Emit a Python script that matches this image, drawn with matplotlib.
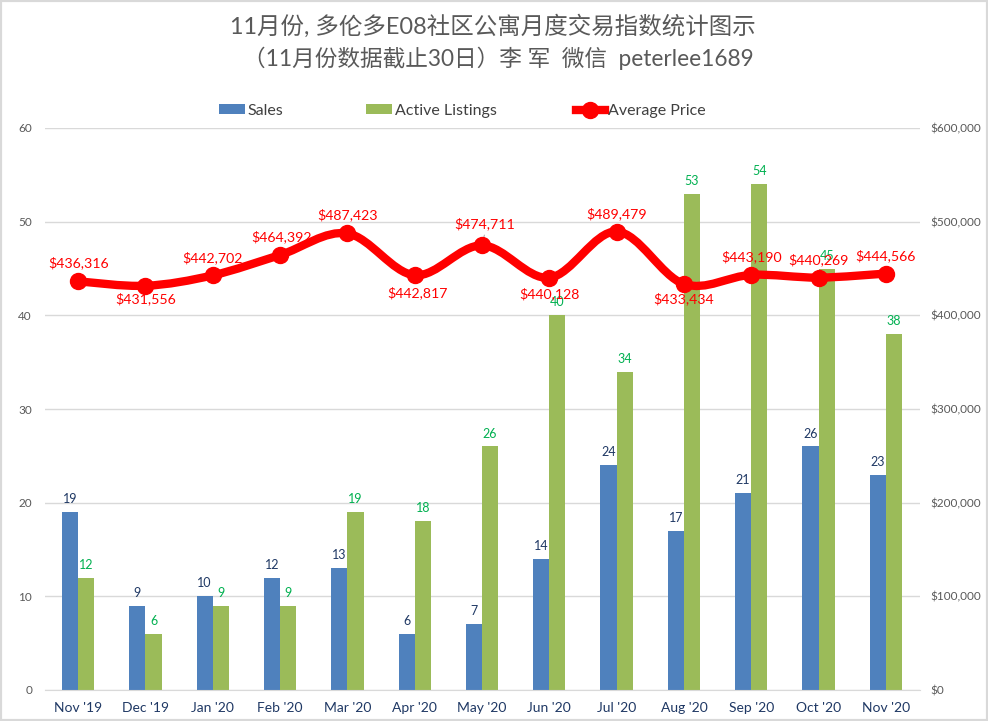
import matplotlib
matplotlib.use('Agg')
import matplotlib.pyplot as plt
import numpy as np
from matplotlib.patches import PathPatch, Rectangle
from matplotlib.path import Path
from matplotlib.lines import Line2D

plt.rcParams['font.family'] = ['Lato', 'Noto Sans CJK SC', 'DejaVu Sans']

months = ["Nov '19", "Dec '19", "Jan '20", "Feb '20", "Mar '20", "Apr '20", "May '20",
          "Jun '20", "Jul '20", "Aug '20", "Sep '20", "Oct '20", "Nov '20"]
sales = [19, 9, 10, 12, 13, 6, 7, 14, 24, 17, 21, 26, 23]
listings = [12, 6, 9, 9, 19, 18, 26, 40, 34, 53, 54, 45, 38]
price = [436316, 431556, 442702, 464392, 487423, 442817, 474711,
         440128, 489479, 433434, 443190, 440269, 444566]

# label offsets from the marker, in pixels
price_offsets = [(0, 19), (0, -13), (0, 18), (1, 18), (0, 19), (3, -18), (3, 22),
                 (0, -16), (0, 18), (0, -15), (0, 18), (0, 18), (0, 18)]

W, H = 988, 721
BLUE = '#4f81bd'
GREEN = '#9bbb59'
RED = '#ff0000'
GRID = '#d9d9d9'
GREY = '#595959'
NAVY = '#1f3864'


def smooth_path(xs, ys):
    # same kind of curve as a smoothed office chart line
    verts = [(xs[0], ys[0])]
    codes = [Path.MOVETO]
    n = len(xs)
    for i in range(n - 1):
        x0, y0 = xs[max(i - 1, 0)], ys[max(i - 1, 0)]
        x1, y1 = xs[i], ys[i]
        x2, y2 = xs[i + 1], ys[i + 1]
        x3, y3 = xs[min(i + 2, n - 1)], ys[min(i + 2, n - 1)]
        verts.append((x1 + (x2 - x0) / 6, y1 + (y2 - y0) / 6))
        verts.append((x2 - (x3 - x1) / 6, y2 - (y3 - y1) / 6))
        verts.append((x2, y2))
        codes += [Path.CURVE4, Path.CURVE4, Path.CURVE4]
    return Path(verts, codes)


fig = plt.figure(figsize=(W / 100, H / 100), dpi=100)
ax = fig.add_axes([44.5 / W, 1 - 690 / H, 875 / W, 562 / H])
x = np.arange(len(months))
bw = 0.24

ax.bar(x - bw / 2, sales, bw, color=BLUE, zorder=2)
ax.bar(x + bw / 2, listings, bw, color=GREEN, zorder=2)
ax.set_xlim(-0.5, len(months) - 0.5)
ax.set_ylim(0, 60)
ax.set_yticks(range(0, 61, 10))
ax.set_xticks(x)
ax.set_xticklabels(months, color=NAVY, fontsize=10)
ax.tick_params(axis='x', length=0, pad=9)
ax.tick_params(axis='y', length=0, pad=9, labelsize=8.5, labelcolor=GREY)
ax.grid(axis='y', color=GRID, lw=1, zorder=0)
ax.set_axisbelow(True)
for s in ['top', 'left', 'right']:
    ax.spines[s].set_visible(False)
ax.spines['bottom'].set_color(GRID)

for i, v in enumerate(sales):
    ax.annotate(str(v), (i - bw / 2, v), xytext=(0, 5), textcoords='offset points',
                ha='center', va='bottom', fontsize=9, color=NAVY, zorder=3)
for i, v in enumerate(listings):
    ax.annotate(str(v), (i + bw / 2, v), xytext=(0, 5), textcoords='offset points',
                ha='center', va='bottom', fontsize=9, color='#00b050', zorder=3)

ax2 = ax.twinx()
ax2.set_ylim(0, 600000)
ax2.set_yticks(range(0, 600001, 100000))
ax2.set_yticklabels(['$0', '$100,000', '$200,000', '$300,000', '$400,000', '$500,000', '$600,000'])
ax2.tick_params(axis='y', length=0, pad=8, labelsize=8.5, labelcolor=GREY)
for s in ax2.spines.values():
    s.set_visible(False)

ax2.add_patch(PathPatch(smooth_path(x, price), fc='none', ec=RED, lw=6, capstyle='round', zorder=4))
ax2.plot(x, price, ls='none', marker='o', ms=11.5, color=RED, zorder=5)

for i, v in enumerate(price):
    dx, dy = price_offsets[i]
    ax2.annotate(f'${v:,}', (i, v), xytext=(dx * 0.72, dy * 0.72), textcoords='offset points',
                 ha='center', va='center', fontsize=10.2, color=RED, zorder=6)
# small leader on the May label
ax2.annotate('', (6, price[6]), xytext=(3 * 0.72, 13 * 0.72), textcoords='offset points',
             arrowprops=dict(arrowstyle='-', color='#a6a6a6', lw=0.7), zorder=3)

fig.text(493 / W, 1 - 26 / H, '11月份, 多伦多E08社区公寓月度交易指数统计图示',
         ha='center', va='center', fontsize=16.9, color=GREY)
fig.text(498 / W, 1 - 58 / H, '（11月份数据截止30日）李 军  微信  peterlee1689',
         ha='center', va='center', fontsize=16.3, color=GREY)

legend_items = [
    (Rectangle((0, 0), 1, 1, fc=BLUE), 'Sales', 219, 1.6),
    (Rectangle((0, 0), 1, 1, fc=GREEN), 'Active Listings', 366, 1.6),
    (Line2D([], [], color=RED, lw=6, marker='o', ms=11.5), 'Average Price', 576, 1.8),
]
for handle, label, left, hlen in legend_items:
    fig.legend([handle], [label], loc='center left', bbox_to_anchor=(left / W, 1 - 111 / H),
               frameon=False, fontsize=11.5, labelcolor='#404040', borderpad=0, borderaxespad=0,
               handlelength=hlen, handletextpad=0.2, handleheight=0.6)

fig.add_artist(Rectangle((0, 0), 1, 1, transform=fig.transFigure, fc='none', ec=GRID, lw=3))

fig.savefig('out.png', dpi=100)
